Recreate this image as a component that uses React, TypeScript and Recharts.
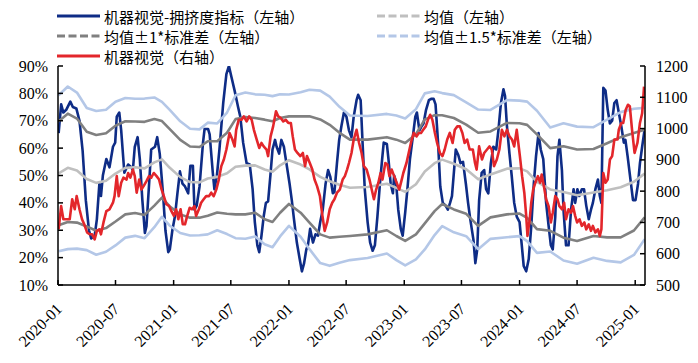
import React from "react";
import { LineChart, Line, XAxis, YAxis } from "recharts";

// 机器视觉-拥挤度指标（左轴, %）
const congestionDates = [
  "2020-01-03", "2020-01-11", "2020-01-18", "2020-01-27", "2020-02-09", "2020-02-17", "2020-02-28", "2020-03-09", "2020-03-19", "2020-03-29",
  "2020-04-08", "2020-04-15", "2020-04-26", "2020-05-03", "2020-05-11", "2020-05-16", "2020-05-22", "2020-06-02", "2020-06-12", "2020-06-23",
  "2020-06-30", "2020-07-05", "2020-07-13", "2020-07-19", "2020-07-29", "2020-08-10", "2020-08-20", "2020-08-25", "2020-08-31", "2020-09-09",
  "2020-09-16", "2020-09-24", "2020-10-02", "2020-10-07", "2020-10-17", "2020-10-22", "2020-11-03", "2020-11-10", "2020-11-18", "2020-11-29",
  "2020-12-06", "2020-12-15", "2020-12-20", "2020-12-28",
  "2021-01-05", "2021-01-13", "2021-01-21", "2021-01-29", "2021-02-06", "2021-02-16", "2021-02-23", "2021-03-03", "2021-03-08", "2021-03-15",
  "2021-03-24", "2021-04-04", "2021-04-09", "2021-04-20", "2021-04-25", "2021-05-05", "2021-05-10", "2021-05-18", "2021-05-26", "2021-06-07",
  "2021-06-17", "2021-06-25", "2021-07-03", "2021-07-13", "2021-07-24", "2021-07-31", "2021-08-09", "2021-08-20", "2021-08-30", "2021-09-08",
  "2021-09-15", "2021-09-23", "2021-09-29", "2021-10-06", "2021-10-13", "2021-10-20", "2021-10-27", "2021-11-04", "2021-11-10", "2021-11-18",
  "2021-11-23", "2021-12-01", "2021-12-08", "2021-12-16", "2021-12-24",
  "2022-01-03", "2022-01-10", "2022-01-17", "2022-01-26", "2022-02-04", "2022-02-11", "2022-02-18", "2022-02-25", "2022-03-02", "2022-03-09",
  "2022-03-18", "2022-03-26", "2022-04-03", "2022-04-10", "2022-04-18", "2022-04-27", "2022-05-05", "2022-05-12", "2022-05-20", "2022-05-25",
  "2022-06-02", "2022-06-09", "2022-06-16", "2022-06-24", "2022-07-02", "2022-07-10", "2022-07-18", "2022-07-25", "2022-08-03", "2022-08-08",
  "2022-08-16", "2022-08-22", "2022-08-29", "2022-09-07", "2022-09-15", "2022-09-23", "2022-09-30", "2022-10-08", "2022-10-16", "2022-10-23",
  "2022-10-28", "2022-11-07", "2022-11-12", "2022-11-19", "2022-11-26", "2022-11-30", "2022-12-06", "2022-12-13", "2022-12-21", "2022-12-27",
  "2023-01-04", "2023-01-11", "2023-01-19", "2023-01-28", "2023-02-05", "2023-02-10", "2023-02-18", "2023-02-25", "2023-03-03", "2023-03-11",
  "2023-03-20", "2023-03-27", "2023-04-04", "2023-04-10", "2023-04-18", "2023-04-25", "2023-05-03", "2023-05-12", "2023-05-19", "2023-05-26",
  "2023-06-01", "2023-06-13", "2023-06-21", "2023-06-28", "2023-07-06", "2023-07-15", "2023-07-22", "2023-07-29", "2023-08-08", "2023-08-14",
  "2023-08-20", "2023-08-26", "2023-09-03", "2023-09-11", "2023-09-17", "2023-09-24", "2023-10-02", "2023-10-10", "2023-10-19", "2023-10-26",
  "2023-11-03", "2023-11-11", "2023-11-16", "2023-11-22", "2023-11-30", "2023-12-07", "2023-12-15", "2023-12-23",
  "2024-01-01", "2024-01-08", "2024-01-14", "2024-01-22", "2024-01-30", "2024-02-07", "2024-02-15", "2024-02-22", "2024-03-01", "2024-03-08",
  "2024-03-16", "2024-03-25", "2024-04-02", "2024-04-09", "2024-04-15", "2024-04-23", "2024-04-30", "2024-05-06", "2024-05-14", "2024-05-19",
  "2024-05-27", "2024-06-04", "2024-06-12", "2024-06-20", "2024-06-25", "2024-07-02", "2024-07-08", "2024-07-16", "2024-07-23", "2024-07-30",
  "2024-08-07", "2024-08-14", "2024-08-20", "2024-08-28", "2024-09-05", "2024-09-11", "2024-09-16", "2024-09-22", "2024-09-29", "2024-10-06",
  "2024-10-13", "2024-10-20", "2024-10-27", "2024-11-03", "2024-11-10", "2024-11-18", "2024-11-26", "2024-12-01", "2024-12-08", "2024-12-17",
  "2024-12-25",
  "2025-01-02", "2025-01-10", "2025-01-16", "2025-01-23", "2025-01-31",
];
const congestionValues = [
  65.5, 76, 73, 74, 77, 75, 74.5, 70, 59, 41,
  30, 27, 28, 34, 47, 42.5, 50, 56, 53, 60.5,
  62, 71.5, 73, 66.5, 51, 54, 53, 52, 60.5, 64,
  56, 41, 29, 31.5, 50, 59.5, 60.5, 64, 58, 42.5,
  30, 22, 23, 30,
  35, 43.5, 51.5, 47, 46, 43.5, 53.5, 53.5, 37.5, 39,
  46, 62, 67, 67, 65, 51, 45, 50, 59.5, 76.5,
  87, 90, 86, 81, 75, 71.5, 62, 54.5, 54, 45,
  33, 24.5, 22, 28, 35, 40, 40.5, 51, 59.5, 63,
  60.5, 58, 63, 60.5, 54.5,
  47, 41, 34, 25.5, 19.5, 15, 18, 23, 24.5, 30.5,
  25.5, 28.5, 28, 33, 37.5, 47, 52, 49.5, 43.5, 44,
  54.5, 63, 68, 73, 71.5, 66.5, 64, 71.5, 77.5, 79.5,
  77.5, 62, 45, 33, 25.5, 22.5, 24.5, 35, 47, 56,
  62, 61.5, 56, 47, 43.5, 50, 47.5, 37.5, 30.5, 28,
  36.5, 45, 56, 64, 71.5, 73, 66.5, 68, 69, 74,
  77.5, 78, 78, 76, 62, 46, 40, 39, 37.5, 40,
  42.5, 59.5, 57.5, 54.5, 55, 47, 40, 34, 26.5, 18,
  23, 41, 51, 52, 45, 43.5, 54.5, 60.5, 59.5, 66.5,
  76.5, 81.5, 79, 68, 58, 50, 40, 35,
  33, 24.5, 17, 15, 19.5, 31.5, 47, 57, 65.5, 59.5,
  56, 40, 31.5, 24.5, 23, 35, 57, 63, 52, 37.5,
  24.5, 24.5, 37.5, 45, 40, 45, 42.5, 45, 45, 39,
  34, 37.5, 40, 45, 48.5, 42.5, 40, 82, 81, 74,
  69, 70, 76.5, 77.5, 73, 68, 62, 63, 57, 48.5,
  41,
  41, 47, 54.5, 60.5, 67,
];

// 机器视觉（右轴）
const visionDates = [
  "2020-01-03", "2020-01-11", "2020-01-18", "2020-01-27", "2020-02-07", "2020-02-15", "2020-02-23", "2020-02-29", "2020-03-09", "2020-03-17",
  "2020-03-24", "2020-04-02", "2020-04-10", "2020-04-18", "2020-04-26", "2020-05-03", "2020-05-11", "2020-05-16", "2020-05-24", "2020-06-02",
  "2020-06-12", "2020-06-23", "2020-06-28", "2020-07-05", "2020-07-11", "2020-07-19", "2020-07-26", "2020-08-05", "2020-08-10", "2020-08-17",
  "2020-08-25", "2020-08-31", "2020-09-06", "2020-09-14", "2020-09-21", "2020-09-28", "2020-10-07", "2020-10-15", "2020-10-22", "2020-10-30",
  "2020-11-08", "2020-11-16", "2020-11-24", "2020-12-01", "2020-12-09", "2020-12-18", "2020-12-25",
  "2021-01-02", "2021-01-09", "2021-01-16", "2021-01-23", "2021-01-30", "2021-02-06", "2021-02-13", "2021-02-21", "2021-02-28", "2021-03-08",
  "2021-03-13", "2021-03-22", "2021-03-29", "2021-04-06", "2021-04-14", "2021-04-23", "2021-04-30", "2021-05-08", "2021-05-16", "2021-05-24",
  "2021-06-01", "2021-06-09", "2021-06-17", "2021-06-27", "2021-07-06", "2021-07-13", "2021-07-18", "2021-07-26", "2021-08-04", "2021-08-11",
  "2021-08-20", "2021-08-28", "2021-09-05", "2021-09-12", "2021-09-21", "2021-09-29", "2021-10-06", "2021-10-13", "2021-10-22", "2021-10-27",
  "2021-11-04", "2021-11-12", "2021-11-21", "2021-11-28", "2021-12-06", "2021-12-14", "2021-12-22", "2021-12-30",
  "2022-01-07", "2022-01-13", "2022-01-20", "2022-01-28", "2022-02-06", "2022-02-14", "2022-02-21", "2022-02-27", "2022-03-08", "2022-03-16",
  "2022-03-23", "2022-03-31", "2022-04-09", "2022-04-17", "2022-04-24", "2022-05-02", "2022-05-10", "2022-05-18", "2022-05-25", "2022-06-02",
  "2022-06-11", "2022-06-20", "2022-06-27", "2022-07-04", "2022-07-10", "2022-07-18", "2022-07-25", "2022-08-03", "2022-08-11", "2022-08-19",
  "2022-08-26", "2022-09-04", "2022-09-13", "2022-09-20", "2022-09-27", "2022-10-04", "2022-10-11", "2022-10-18", "2022-10-24", "2022-11-02",
  "2022-11-09", "2022-11-15", "2022-11-22", "2022-11-30", "2022-12-08", "2022-12-16", "2022-12-24", "2022-12-29",
  "2023-01-08", "2023-01-15", "2023-01-22", "2023-01-31", "2023-02-09", "2023-02-16", "2023-02-23", "2023-03-02", "2023-03-10", "2023-03-17",
  "2023-03-24", "2023-03-31", "2023-04-08", "2023-04-15", "2023-04-24", "2023-05-02", "2023-05-09", "2023-05-17", "2023-05-25", "2023-06-03",
  "2023-06-10", "2023-06-18", "2023-06-26", "2023-07-04", "2023-07-11", "2023-07-19", "2023-07-27", "2023-08-06", "2023-08-13", "2023-08-18",
  "2023-08-26", "2023-09-04", "2023-09-11", "2023-09-20", "2023-09-28", "2023-10-05", "2023-10-12", "2023-10-21", "2023-10-29", "2023-11-06",
  "2023-11-14", "2023-11-22", "2023-11-30", "2023-12-08", "2023-12-15", "2023-12-23",
  "2024-01-02", "2024-01-09", "2024-01-16", "2024-01-22", "2024-01-26", "2024-02-02", "2024-02-07", "2024-02-13", "2024-02-20", "2024-02-28",
  "2024-03-06", "2024-03-11", "2024-03-18", "2024-03-25", "2024-04-02", "2024-04-09", "2024-04-15", "2024-04-23", "2024-04-30", "2024-05-06",
  "2024-05-14", "2024-05-21", "2024-05-27", "2024-06-04", "2024-06-12", "2024-06-18", "2024-06-25", "2024-07-01", "2024-07-09", "2024-07-16",
  "2024-07-24", "2024-07-30", "2024-08-07", "2024-08-14", "2024-08-20", "2024-08-28", "2024-09-05", "2024-09-11", "2024-09-16", "2024-09-22",
  "2024-09-29", "2024-10-06", "2024-10-13", "2024-10-20", "2024-10-27", "2024-11-06", "2024-11-10", "2024-11-18", "2024-11-24", "2024-12-02",
  "2024-12-09", "2024-12-15", "2024-12-22", "2024-12-30",
  "2025-01-08", "2025-01-16", "2025-01-23", "2025-01-29",
];
const visionValues = [
  678, 752, 710, 710, 710, 774, 742, 784, 742, 710,
  694, 668, 662, 662, 646, 673, 678, 662, 700, 736,
  742, 763, 784, 848, 784, 827, 843, 837, 858, 843,
  869, 848, 795, 837, 805, 816, 832, 848, 843, 858,
  848, 837, 805, 784, 758, 752, 736,
  721, 742, 710, 742, 694, 694, 721, 747, 742, 752,
  721, 742, 763, 774, 784, 784, 795, 784, 805, 837,
  880, 901, 933, 986, 965, 943, 996, 1028, 1028, 1039,
  1023, 1039, 1028, 996, 965, 938, 954, 943, 933, 912,
  975, 1007, 1055, 1039, 1034, 1023, 1028, 1018,
  1018, 975, 933, 922, 912, 922, 880, 912, 890, 869,
  837, 816, 784, 721, 673, 700, 742, 763, 774, 795,
  805, 837, 848, 869, 890, 922, 965, 996, 954, 922,
  880, 869, 837, 805, 774, 805, 827, 858, 837, 890,
  885, 848, 869, 848, 827, 805, 837, 858,
  890, 922, 954, 986, 975, 986, 986, 996, 1007, 1028,
  1044, 1028, 986, 954, 922, 912, 933, 965, 986, 954,
  996, 1007, 1007, 986, 954, 965, 933, 933, 890, 869,
  943, 901, 922, 933, 943, 933, 880, 901, 933, 996,
  975, 996, 975, 965, 943, 996,
  912, 848, 795, 721, 657, 710, 763, 805, 827, 848,
  827, 853, 816, 774, 752, 700, 731, 784, 774, 752,
  742, 763, 710, 742, 731, 752, 721, 700, 710, 689,
  700, 678, 694, 673, 689, 668, 678, 657, 678, 858,
  827, 837, 901, 912, 965, 965, 996, 1018, 1018, 1060,
  1076, 1071, 996, 922,
  954, 1018, 1049, 1134,
];

// 均值 与 标准差（左轴, %）
const bandDates = [
  "2020-01-03", "2020-02-01", "2020-03-01", "2020-04-01", "2020-05-01", "2020-06-01", "2020-07-01", "2020-08-01", "2020-09-01", "2020-10-01",
  "2020-11-01", "2020-11-25", "2020-12-19",
  "2021-01-22", "2021-02-22", "2021-03-24", "2021-04-19", "2021-05-19", "2021-06-19", "2021-07-16", "2021-08-16", "2021-09-16", "2021-10-16",
  "2021-11-10", "2021-12-04",
  "2022-01-01", "2022-02-07", "2022-03-07", "2022-04-10", "2022-05-10", "2022-06-10", "2022-07-13", "2022-09-07", "2022-11-07", "2022-12-07",
  "2023-01-04", "2023-02-07", "2023-03-07", "2023-04-07", "2023-05-01", "2023-06-07", "2023-07-16", "2023-08-23", "2023-10-01", "2023-11-22",
  "2024-01-01", "2024-01-25", "2024-02-25", "2024-04-07", "2024-05-19", "2024-07-01", "2024-08-22", "2024-10-04", "2024-11-16", "2024-12-28",
  "2025-01-31",
];
const bandMean = [
  50.8, 52.8, 51.8, 48.7, 47.3, 48.1, 50.7, 52.8, 53, 52.6,
  54.8, 55.9, 52.9,
  49.4, 47.6, 47.5, 48.9, 49.5, 50.8, 53.2, 53.6, 53.7, 52.2,
  51.4, 53.7,
  55.6, 54, 52.2, 49.5, 47.9, 46.6, 45.5, 45.8, 47, 45.5,
  44, 46.8, 51.5, 54.5, 55.8, 54.3, 52.3, 48.6, 50.4, 52.5,
  52.6, 51.5, 47.7, 44.9, 44, 42.8, 43.8, 44.6, 45.7, 47.7,
  50.7,
];
const bandStd = [
  19, 19.8, 19, 17.3, 17.5, 17.3, 17.5, 17, 16.7, 17,
  15.8, 14, 14.1,
  13.6, 13, 12.9, 13.6, 13, 14.8, 17.4, 17.8, 17.3, 18.2,
  18.4, 17.3,
  16, 17.6, 19.4, 21, 20.6, 19, 17.6, 17.3, 17, 17.6,
  17.9, 18.3, 19, 17.5, 16.2, 16.7, 16.3, 17, 15.7, 16.7,
  16.5, 17, 17.3, 15.1, 16.7, 16.7, 15.9, 17.2, 18.3, 17.8,
  16,
];

const xTickLabels = [
  "2020-01", "2020-07", "2021-01", "2021-07", "2022-01", "2022-07",
  "2023-01", "2023-07", "2024-01", "2024-07", "2025-01",
];
const leftTicks = [10, 20, 30, 40, 50, 60, 70, 80, 90];
const rightTicks = [500, 600, 700, 800, 900, 1000, 1100, 1200];

const BLUE = "#0E2C86";
const RED = "#E3262B";
const MEAN = "#BFBFBF";
const SD1 = "#808080";
const SD15 = "#B4C7E7";

const ts = (d: string) => Date.parse(d);

const congestionData = congestionDates.map((d, i) => ({ t: ts(d), v: congestionValues[i] }));
const visionData = visionDates.map((d, i) => ({ t: ts(d), v: visionValues[i] }));
const bandData = bandDates.map((d, i) => {
  const m = bandMean[i];
  const s = bandStd[i];
  return { t: ts(d), mean: m, up1: m + s, lo1: m - s, up15: m + 1.5 * s, lo15: m - 1.5 * s };
});

const xTicks = xTickLabels.map((l) => ts(l + "-01"));

const tickStyle = {
  fontFamily: "'Liberation Serif', 'Times New Roman', serif",
  fontSize: 16,
  fill: "#000",
};

function LeftTick(props: any) {
  const { x, y, payload } = props;
  return (
    <g>
      <line x1={x} x2={x + 5} y1={y} y2={y} stroke="#000" strokeWidth={1.5} />
      <text x={x - 10} y={y} textAnchor="end" dominantBaseline="central" style={tickStyle}>
        {payload.value}%
      </text>
    </g>
  );
}

function RightTick(props: any) {
  const { x, y, payload } = props;
  return (
    <g>
      <line x1={x} x2={x - 5} y1={y} y2={y} stroke="#000" strokeWidth={1.5} />
      <text x={x + 11} y={y} textAnchor="start" dominantBaseline="central" style={tickStyle}>
        {payload.value}
      </text>
    </g>
  );
}

function DateTick(props: any) {
  const { x, y, payload } = props;
  const label = new Date(payload.value).toISOString().slice(0, 7);
  return (
    <g>
      <line x1={x} x2={x} y1={y} y2={y - 5} stroke="#000" strokeWidth={1.5} />
      <text transform={`translate(${x + 5},${y + 25}) rotate(-45)`} textAnchor="end" style={tickStyle}>
        {label}
      </text>
    </g>
  );
}

const legendStyle = {
  fontFamily: "'Noto Sans CJK SC', 'Noto Sans', sans-serif",
  fontSize: 15,
  fill: "#000",
};

const legendItems = [
  { label: "机器视觉-拥挤度指标（左轴）", color: BLUE, dashed: false, x: 57, y: 16 },
  { label: "均值（左轴）", color: MEAN, dashed: true, x: 377, y: 16 },
  { label: "均值±1*标准差（左轴）", color: SD1, dashed: true, x: 57, y: 36 },
  { label: "均值±1.5*标准差（左轴）", color: SD15, dashed: true, x: 377, y: 36 },
  { label: "机器视觉（右轴）", color: RED, dashed: false, x: 57, y: 56 },
];

function ChartLegend() {
  return (
    <svg width={698} height={66} style={{ position: "absolute", left: 0, top: 0, pointerEvents: "none" }}>
      {legendItems.map((it) => (
        <g key={it.label}>
          <line
            x1={it.x}
            x2={it.x + 43}
            y1={it.y}
            y2={it.y}
            stroke={it.color}
            strokeWidth={3}
            strokeDasharray={it.dashed ? "8 3.5" : undefined}
          />
          <text x={it.x + 47} y={it.y} dominantBaseline="central" style={legendStyle}>
            {it.label}
          </text>
        </g>
      ))}
    </svg>
  );
}

export default function App() {
  const axisLine = { stroke: "#000", strokeWidth: 1.5 };
  const lineCommon = { type: "linear" as const, dot: false, isAnimationActive: false, strokeWidth: 2.6, strokeLinejoin: "round" as const };
  return (
    <div style={{ position: "relative", width: 698, height: 363, background: "#fff" }}>
      <style>{"body{margin:0}"}</style>
      <LineChart width={698} height={363} margin={{ top: 66, right: 0, left: 0, bottom: 0 }}>
        <XAxis
          dataKey="t"
          type="number"
          domain={[ts("2020-01-01"), ts("2025-02-01")]}
          ticks={xTicks}
          interval={0}
          height={78}
          tickSize={0}
          tickMargin={0}
          tickLine={false}
          axisLine={axisLine}
          tick={(p: any) => <DateTick {...p} />}
          allowDataOverflow
        />
        <YAxis
          yAxisId="left"
          orientation="left"
          width={58}
          domain={[10, 90]}
          ticks={leftTicks}
          interval={0}
          tickSize={0}
          tickMargin={0}
          tickLine={false}
          axisLine={axisLine}
          tick={(p: any) => <LeftTick {...p} />}
          allowDataOverflow
        />
        <YAxis
          yAxisId="right"
          orientation="right"
          width={53}
          domain={[500, 1200]}
          ticks={rightTicks}
          interval={0}
          tickSize={0}
          tickMargin={0}
          tickLine={false}
          axisLine={axisLine}
          tick={(p: any) => <RightTick {...p} />}
          allowDataOverflow
        />
        <Line {...lineCommon} yAxisId="left" data={congestionData} dataKey="v" stroke={BLUE} name="机器视觉-拥挤度指标（左轴）" />
        <Line {...lineCommon} yAxisId="left" data={bandData} dataKey="mean" stroke={MEAN} name="均值（左轴）" />
        <Line {...lineCommon} yAxisId="left" data={bandData} dataKey="up1" stroke={SD1} name="均值+1*标准差" />
        <Line {...lineCommon} yAxisId="left" data={bandData} dataKey="lo1" stroke={SD1} name="均值-1*标准差" />
        <Line {...lineCommon} yAxisId="left" data={bandData} dataKey="up15" stroke={SD15} name="均值+1.5*标准差" />
        <Line {...lineCommon} yAxisId="left" data={bandData} dataKey="lo15" stroke={SD15} name="均值-1.5*标准差" />
        <Line {...lineCommon} yAxisId="right" data={visionData} dataKey="v" stroke={RED} name="机器视觉（右轴）" />
      </LineChart>
      <ChartLegend />
    </div>
  );
}
